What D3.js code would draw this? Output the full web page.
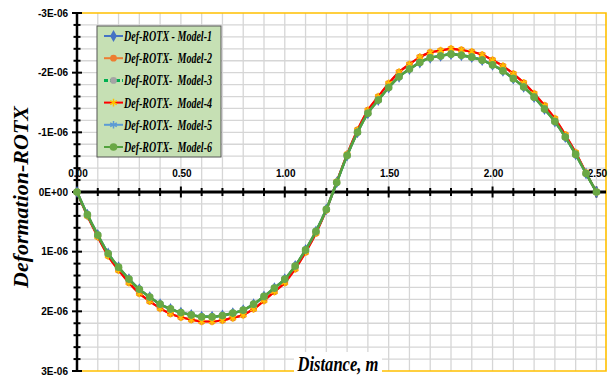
<!DOCTYPE html>
<html>
<head>
<meta charset="utf-8">
<script src="https://cdn.jsdelivr.net/npm/d3@7"></script>
<style>
  body { margin: 0; background: #fff; }
  svg { display: block; }
</style>
</head>
<body>
<svg id="chart" width="611" height="379"></svg>
<script>
// distance along the member, m
var distance = [0.00, 0.05, 0.10, 0.15, 0.20, 0.25, 0.30, 0.35, 0.40, 0.45,
  0.50, 0.55, 0.60, 0.65, 0.70, 0.75, 0.80, 0.85, 0.90, 0.95,
  1.00, 1.05, 1.10, 1.15, 1.20, 1.25, 1.30, 1.35, 1.40, 1.45,
  1.50, 1.55, 1.60, 1.65, 1.70, 1.75, 1.80, 1.85, 1.90, 1.95,
  2.00, 2.05, 2.10, 2.15, 2.20, 2.25, 2.30, 2.35, 2.40, 2.45, 2.50];

// rotation values in units of 1E-06 (models 1, 3, 5, 6 lie on top of each other)
var rotModel1 = [0, 0.38, 0.72, 1.03, 1.26, 1.46, 1.63, 1.76, 1.88, 1.96,
  2.02, 2.06, 2.09, 2.09, 2.07, 2.03, 1.98, 1.88, 1.75, 1.61,
  1.46, 1.24, 0.97, 0.66, 0.29, -0.16, -0.61, -1.00, -1.32, -1.54,
  -1.75, -1.93, -2.06, -2.17, -2.25, -2.28, -2.31, -2.29, -2.26, -2.21,
  -2.13, -2.03, -1.90, -1.76, -1.59, -1.39, -1.18, -0.92, -0.63, -0.31, 0];
var rotModel2 = [0, 0.40, 0.75, 1.07, 1.31, 1.52, 1.70, 1.83, 1.95, 2.04,
  2.10, 2.14, 2.17, 2.17, 2.15, 2.11, 2.06, 1.96, 1.82, 1.67,
  1.52, 1.29, 1.01, 0.69, 0.30, -0.17, -0.63, -1.04, -1.37, -1.60,
  -1.82, -2.01, -2.14, -2.26, -2.34, -2.37, -2.40, -2.38, -2.35, -2.30,
  -2.21, -2.11, -1.98, -1.83, -1.65, -1.45, -1.23, -0.96, -0.66, -0.32, 0];
var rotModel3 = rotModel1;
var rotModel4 = rotModel2;
var rotModel5 = rotModel1;
var rotModel6 = rotModel1;

var seriesNames = ["Def-ROTX - Model-1", "Def-ROTX-  Model-2", "Def-ROTX-  Model-3",
  "Def-ROTX-  Model-4", "Def-ROTX-  Model-5", "Def-ROTX-  Model-6"];

var xTickValues = [0, 0.5, 1.0, 1.5, 2.0, 2.5];
var xTickLabels = ["0.00", "0.50", "1.00", "1.50", "2.00", "2.50"];
var yTickValues = [-3, -2, -1, 0, 1, 2, 3];
var yTickLabels = ["-3E-06", "-2E-06", "-1E-06", "0E+00", "1E-06", "2E-06", "3E-06"];

var series = [
  { name: seriesNames[0], values: rotModel1, color: "#4472c4", dash: null, marker: d3.symbolDiamond, mFill: "#4472c4", mStroke: null, mSize: 40 },
  { name: seriesNames[1], values: rotModel2, color: "#ed7d31", dash: null, marker: d3.symbolCircle, mFill: "#ed7d31", mStroke: null, mSize: 36 },
  { name: seriesNames[2], values: rotModel3, color: "#00b050", dash: "6,3", marker: d3.symbolCircle, mFill: "#a5a5a5", mStroke: null, mSize: 36 },
  { name: seriesNames[3], values: rotModel4, color: "#ff0000", dash: null, marker: d3.symbolAsterisk, mFill: "none", mStroke: "#ffc000", mSize: 40 },
  { name: seriesNames[4], values: rotModel5, color: "#5b9bd5", dash: null, marker: d3.symbolAsterisk, mFill: "none", mStroke: "#5b9bd5", mSize: 40 },
  { name: seriesNames[5], values: rotModel6, color: "#52a23e", dash: null, marker: d3.symbolCircle, mFill: "#6aa845", mStroke: null, mSize: 46 }
];

var svg = d3.select("#chart");
var plot = { left: 77, right: 606, top: 13, bottom: 371 };

var x = d3.scaleLinear().domain([0, 2.546]).range([plot.left, plot.right]);
var y = d3.scaleLinear().domain([-3, 3]).range([plot.top, plot.bottom]);

// gridlines
svg.append("g").selectAll("line")
  .data(d3.range(1, 26).map(function(i) { return i / 10; }))
  .enter().append("line")
  .attr("x1", function(d) { return x(d); }).attr("x2", function(d) { return x(d); })
  .attr("y1", plot.top).attr("y2", plot.bottom)
  .attr("stroke", "#d6d6d6").attr("stroke-width", 1.3);
svg.append("g").selectAll("line")
  .data(d3.range(-14, 15).map(function(i) { return i / 5; }))
  .enter().append("line")
  .attr("x1", plot.left).attr("x2", plot.right)
  .attr("y1", function(d) { return y(d); }).attr("y2", function(d) { return y(d); })
  .attr("stroke", "#d6d6d6").attr("stroke-width", 1.3);

// gold plot border (top, right, bottom)
svg.append("path")
  .attr("d", "M" + plot.left + "," + plot.top + "H" + plot.right + "V" + plot.bottom + "H" + plot.left)
  .attr("fill", "none").attr("stroke", "#ffc000").attr("stroke-width", 1.6);

// y axis with ticks crossing the line
var yAxis = svg.append("g");
yAxis.append("line")
  .attr("x1", plot.left).attr("x2", plot.left)
  .attr("y1", plot.top).attr("y2", plot.bottom)
  .attr("stroke", "#000").attr("stroke-width", 2.5);
yAxis.selectAll(".ytick")
  .data(d3.range(-15, 16).map(function(i) { return i / 5; }))
  .enter().append("line")
  .attr("class", "ytick")
  .attr("x1", function(d, i) { return plot.left - (i % 5 === 0 ? 5 : 3.5); })
  .attr("x2", function(d, i) { return plot.left + (i % 5 === 0 ? 5 : 3.5); })
  .attr("y1", function(d) { return y(d); }).attr("y2", function(d) { return y(d); })
  .attr("stroke", "#000").attr("stroke-width", 2);
yAxis.selectAll(".ylabel")
  .data(yTickValues)
  .enter().append("text")
  .attr("class", "ylabel")
  .attr("x", 68)
  .attr("y", function(d) { return y(d); })
  .attr("dy", "0.35em")
  .attr("text-anchor", "end")
  .style("font", "bold 10px 'Liberation Sans', Arial, sans-serif")
  .text(function(d, i) { return yTickLabels[i]; });

// x axis sits on zero, labels above it
var xAxis = svg.append("g");
xAxis.append("line")
  .attr("x1", plot.left).attr("x2", plot.right)
  .attr("y1", y(0)).attr("y2", y(0))
  .attr("stroke", "#000").attr("stroke-width", 3);
xAxis.selectAll(".xtick")
  .data(d3.range(0, 26).map(function(i) { return i / 10; }))
  .enter().append("line")
  .attr("class", "xtick")
  .attr("x1", function(d) { return x(d); }).attr("x2", function(d) { return x(d); })
  .attr("y1", function(d, i) { return y(0) - (i % 5 === 0 ? 5.5 : 4); })
  .attr("y2", function(d, i) { return y(0) + (i % 5 === 0 ? 5.5 : 4); })
  .attr("stroke", "#000").attr("stroke-width", 2);
xAxis.selectAll(".xlabel")
  .data(xTickValues)
  .enter().append("text")
  .attr("class", "xlabel")
  .attr("x", function(d) { return x(d) + 1; })
  .attr("y", y(0) - 15)
  .attr("text-anchor", "middle")
  .style("font", "bold 10px 'Liberation Sans', Arial, sans-serif")
  .text(function(d, i) { return xTickLabels[i]; });

// series lines and markers
var line = d3.line()
  .x(function(d, i) { return x(distance[i]); })
  .y(function(d) { return y(d); })
  .curve(d3.curveMonotoneX);

series.forEach(function(s, k) {
  var g = svg.append("g");
  g.append("path")
    .datum(s.values)
    .attr("d", line)
    .attr("fill", "none")
    .attr("stroke", s.color)
    .attr("stroke-width", k === 5 ? 2.6 : 2.2)
    .attr("stroke-dasharray", s.dash);
  g.selectAll("path.mk")
    .data(s.values)
    .enter().append("path")
    .attr("class", "mk")
    .attr("transform", function(d, i) { return "translate(" + x(distance[i]) + "," + y(d) + ")"; })
    .attr("d", d3.symbol().type(s.marker).size(s.mSize))
    .attr("fill", s.mFill)
    .attr("stroke", s.mStroke)
    .attr("stroke-width", s.mStroke ? 1.5 : null);
});

// legend
var legend = svg.append("g");
legend.append("rect")
  .attr("x", 97).attr("y", 26).attr("width", 124).attr("height", 131)
  .attr("fill", "#c6e0b4").attr("stroke", "#555").attr("stroke-width", 1);
series.forEach(function(s, i) {
  var ly = 36 + i * 22.2;
  legend.append("line")
    .attr("x1", 104).attr("x2", 123).attr("y1", ly).attr("y2", ly)
    .attr("stroke", s.color).attr("stroke-width", i === 2 ? 3 : 2)
    .attr("stroke-dasharray", s.dash ? "4,2" : null);
  legend.append("path")
    .attr("transform", "translate(113.5," + ly + ")")
    .attr("d", d3.symbol().type(s.marker).size(s.mSize))
    .attr("fill", s.mFill)
    .attr("stroke", s.mStroke)
    .attr("stroke-width", s.mStroke ? 1.5 : null);
  legend.append("text")
    .attr("x", 124).attr("y", ly + 5)
    .attr("textLength", 88).attr("lengthAdjust", "spacingAndGlyphs")
    .style("font", "italic bold 15px 'Liberation Serif', 'Times New Roman', serif")
    .style("white-space", "pre")
    .text(s.name);
});

// axis titles
svg.append("text")
  .attr("transform", "translate(28,197) rotate(-90)")
  .attr("text-anchor", "middle")
  .attr("textLength", 182).attr("lengthAdjust", "spacingAndGlyphs")
  .style("font", "italic bold 22px 'Liberation Serif', 'Times New Roman', serif")
  .text("Deformation-ROTX");

svg.append("rect")
  .attr("x", 294).attr("y", 352).attr("width", 88).attr("height", 27)
  .attr("fill", "#fff");
svg.append("text")
  .attr("x", 338).attr("y", 371)
  .attr("text-anchor", "middle")
  .attr("textLength", 81).attr("lengthAdjust", "spacingAndGlyphs")
  .style("font", "italic bold 20px 'Liberation Serif', 'Times New Roman', serif")
  .text("Distance, m");
</script>
</body>
</html>
